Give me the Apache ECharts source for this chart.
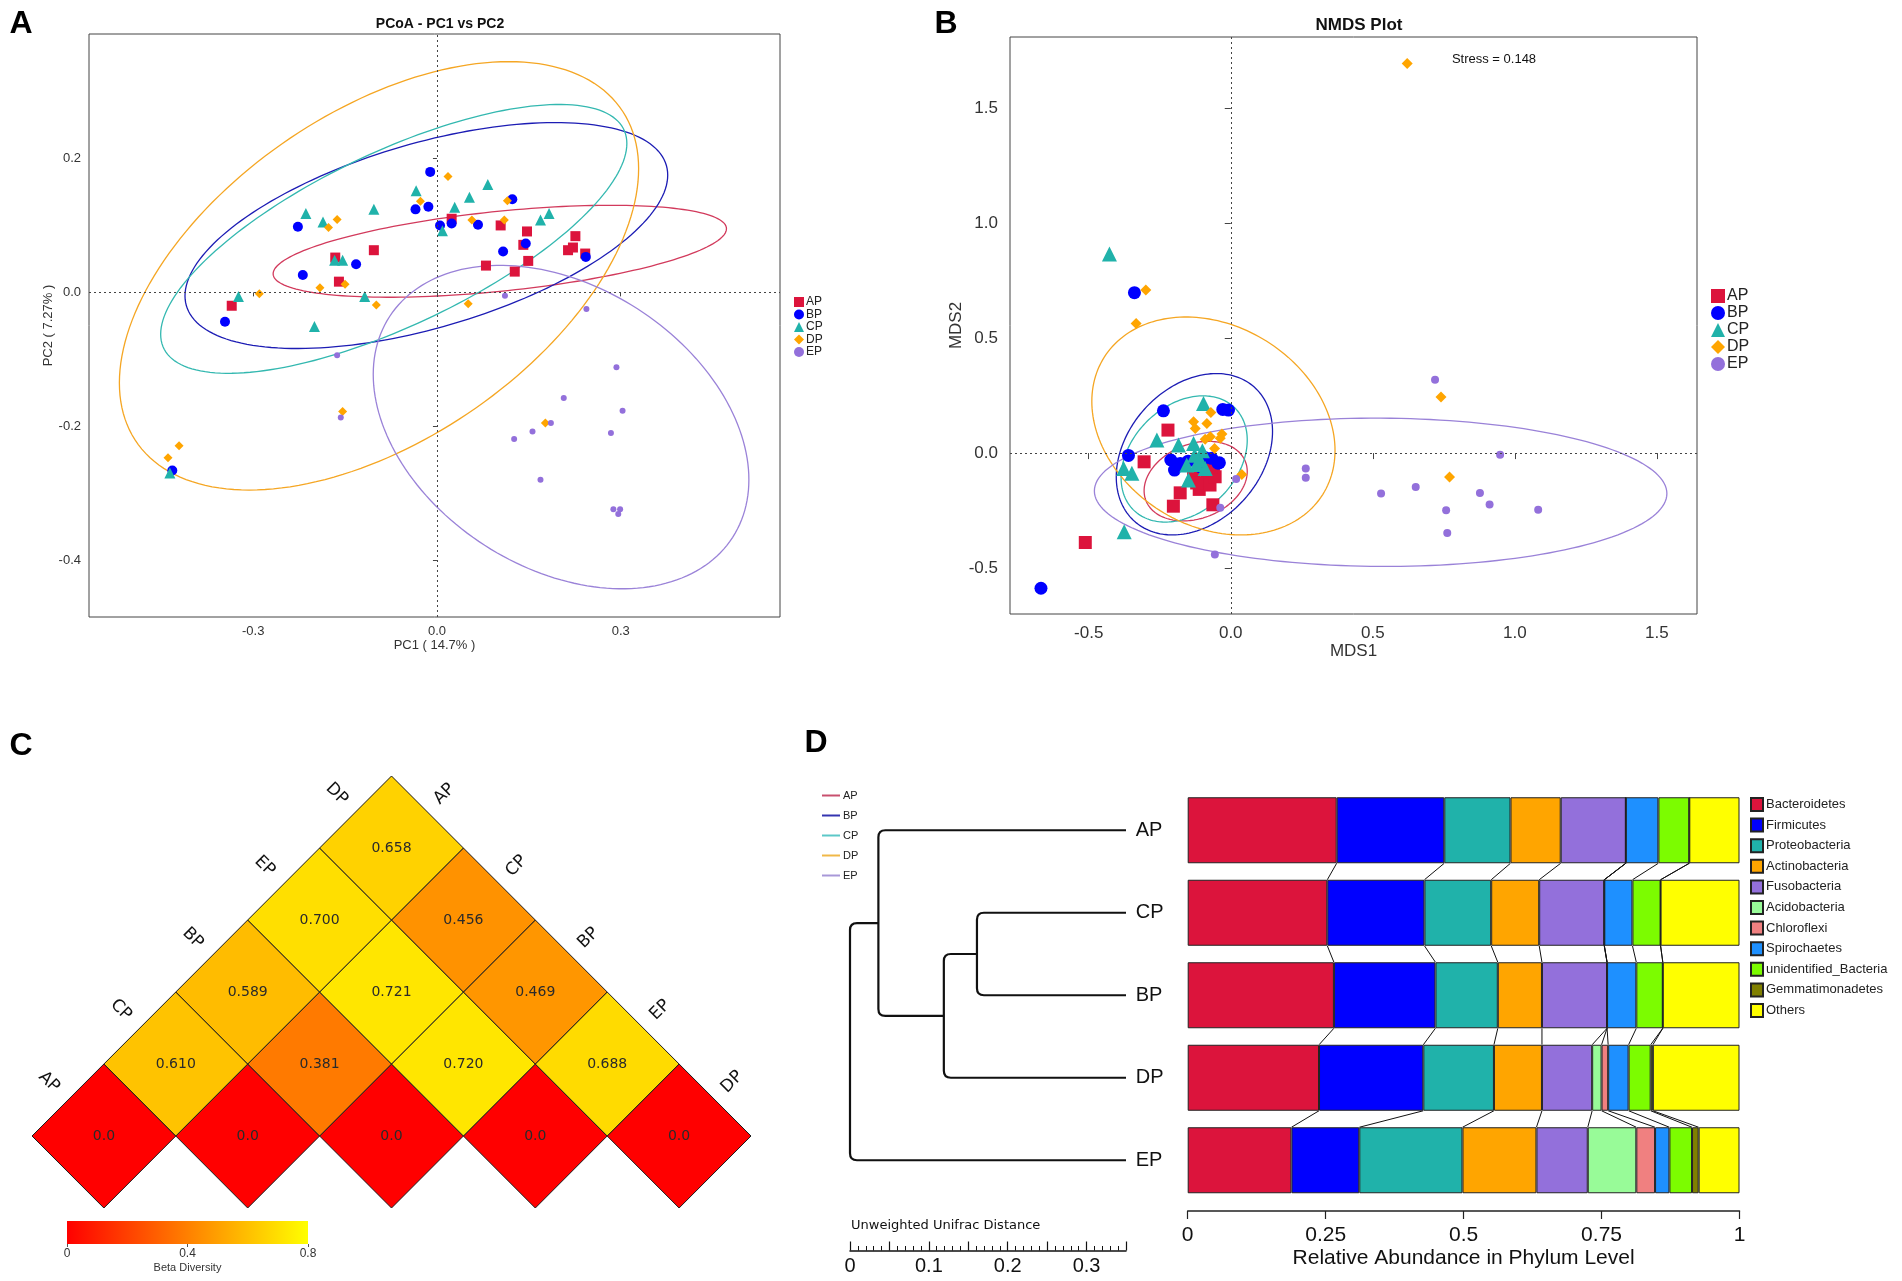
<!DOCTYPE html>
<html><head><meta charset="utf-8">
<script src="https://cdn.jsdelivr.net/npm/echarts@6/dist/echarts.min.js"></script>
<style>html,body{margin:0;padding:0;background:#fff}#c{width:1902px;height:1281px}</style>
</head><body><div id="c"></div>
<script>
// ---------- shared ----------
const groups = ['AP','BP','CP','DP','EP'];
const groupColors = ['#DC143C','#0000FF','#20B2AA','#FFA500','#9370DB'];
const ellipseColors = ['#D23A5C','#1C1CB4','#33B8B0','#F5A623','#9A82D8'];
const groupSymbols = ['rect','circle','triangle','diamond','circle'];

// ---------- Panel A : PCoA ----------
const pcoaAP = [[0.024,0.110],[0.104,0.100],[0.147,0.091],[0.141,0.071],[0.226,0.084],[0.222,0.067],[0.214,0.063],[0.242,0.058],[-0.103,0.063],[-0.166,0.052],[0.149,0.047],[0.080,0.040],[0.127,0.031],[-0.160,0.016],[-0.335,-0.020]];
const pcoaBP = [[-0.011,0.180],[0.123,0.139],[-0.035,0.124],[-0.014,0.128],[-0.227,0.098],[0.005,0.100],[0.024,0.103],[0.067,0.101],[0.145,0.073],[0.108,0.061],[-0.132,0.042],[-0.219,0.026],[0.243,0.053],[-0.346,-0.044],[-0.432,-0.266]];
const pcoaCP = [[-0.034,0.152],[0.083,0.161],[0.053,0.142],[0.029,0.127],[-0.214,0.118],[-0.186,0.105],[-0.103,0.124],[0.183,0.118],[0.169,0.108],[0.009,0.092],[-0.167,0.048],[-0.154,0.048],[-0.324,-0.006],[-0.118,-0.006],[-0.200,-0.051],[-0.436,-0.270]];
const pcoaDP = [[0.018,0.173],[-0.027,0.136],[0.115,0.137],[-0.163,0.109],[-0.177,0.097],[0.057,0.108],[0.110,0.108],[-0.191,0.007],[-0.150,0.012],[-0.290,-0.002],[-0.099,-0.019],[0.051,-0.017],[-0.154,-0.178],[0.177,-0.195],[-0.421,-0.229],[-0.439,-0.247]];
const pcoaEP = [[0.111,-0.005],[0.244,-0.025],[-0.163,-0.094],[0.293,-0.112],[0.207,-0.158],[0.303,-0.177],[-0.157,-0.187],[0.186,-0.195],[0.156,-0.208],[0.126,-0.219],[0.284,-0.210],[0.169,-0.280],[0.288,-0.324],[0.299,-0.324],[0.296,-0.331]];
// ellipse: [centerX, centerY, halfWidth, halfHeight, phaseDeg]
const pcoaEllipses = [[0.1026,0.0614,0.370,0.0687,60.7],[-0.0173,0.0849,0.394,0.1688,57.7],[-0.0705,0.0799,0.3805,0.2008,44.8],[-0.0946,0.0247,0.4238,0.320,60],[0.2026,-0.2012,0.3066,0.2416,109]];
const pcoaTicksX = [-0.3,0,0.3];
const pcoaTicksY = [-0.4,-0.2,0,0.2];

// ---------- Panel B : NMDS ----------
const nmdsAP = [[-0.221,0.100],[-0.305,-0.038],[-0.178,-0.173],[-0.202,-0.231],[-0.063,-0.225],[-0.111,-0.158],[-0.084,-0.117],[-0.061,-0.088],[-0.131,-0.103],[-0.073,-0.139],[-0.055,-0.103],[-0.096,-0.074],[-0.512,-0.389],[-0.120,-0.130],[-0.070,-0.060]];
const nmdsBP = [[-0.237,0.184],[-0.028,0.190],[-0.008,0.187],[-0.360,-0.010],[-0.211,-0.030],[-0.198,-0.074],[-0.040,-0.042],[-0.067,-0.023],[-0.178,-0.045],[-0.108,-0.059],[-0.339,0.698],[-0.668,-0.588],[-0.045,-0.044],[-0.150,-0.035],[-0.090,-0.020]];
const nmdsCP = [[-0.096,0.216],[-0.260,0.057],[-0.184,0.035],[-0.131,0.042],[-0.377,-0.067],[-0.348,-0.088],[-0.155,-0.052],[-0.127,-0.009],[-0.108,-0.030],[-0.090,-0.067],[-0.149,-0.117],[-0.375,-0.342],[-0.427,0.866],[-0.120,-0.050],[-0.100,0.010]];
const nmdsDP = [[-0.070,0.177],[-0.131,0.136],[-0.084,0.129],[-0.125,0.107],[-0.072,0.071],[-0.031,0.083],[-0.037,0.064],[-0.057,0.020],[0.039,-0.093],[0.621,1.695],[-0.299,0.709],[-0.333,0.564],[0.740,0.244],[0.770,-0.104],[-0.090,0.060]];
const nmdsEP = [[0.019,-0.113],[-0.037,-0.238],[-0.056,-0.441],[0.264,-0.067],[0.264,-0.107],[0.719,0.319],[0.948,-0.007],[0.529,-0.176],[0.651,-0.148],[0.877,-0.174],[0.911,-0.224],[0.758,-0.249],[1.082,-0.247],[0.762,-0.348]];
const nmdsEllipses = [[-0.1235,-0.122,0.1815,0.173,76],[-0.128,-0.005,0.275,0.351,73.7],[-0.164,-0.0255,0.222,0.2745,72.6],[-0.061,0.118,0.428,0.474,103],[0.5275,-0.1705,1.0075,0.3225,91]];
const nmdsTicks = [-0.5,0,0.5,1,1.5];

// ---------- Panel C : beta diversity triangle ----------
const betaGroups = ['AP','CP','BP','EP','DP'];
// [i, j, value] with i <= j (indices into betaGroups)
const betaCells = [[0,0,0],[1,1,0],[2,2,0],[3,3,0],[4,4,0],
  [0,1,0.610],[1,2,0.381],[2,3,0.720],[3,4,0.688],
  [0,2,0.589],[1,3,0.721],[2,4,0.469],
  [0,3,0.700],[1,4,0.456],
  [0,4,0.658]];
const betaScaleTicks = [0,0.4,0.8];

// ---------- Panel D : dendrogram + phylum bars ----------
const barGroups = ['AP','CP','BP','DP','EP'];
const dendroColors = ['#C8506E','#3434B0','#5CC8C8','#F0B848','#A898D8'];
const mergeLeft = ['CP','n0','AP','n2'];
const mergeRight = ['BP','DP','n1','EP'];
const mergeHeight = [0.189,0.231,0.314,0.350];
const phyla = ['Bacteroidetes','Firmicutes','Proteobacteria','Actinobacteria','Fusobacteria','Acidobacteria','Chloroflexi','Spirochaetes','unidentified_Bacteria','Gemmatimonadetes','Others'];
const phylaColors = ['#DC143C','#0000FF','#20B2AA','#FFA500','#9370DB','#98FB98','#F08080','#1E90FF','#7CFC00','#808000','#FFFF00'];
const Bacteroidetes = [0.270,0.253,0.265,0.238,0.188];
const Firmicutes = [0.195,0.176,0.184,0.189,0.123];
const Proteobacteria = [0.120,0.121,0.113,0.128,0.187];
const Actinobacteria = [0.091,0.087,0.080,0.087,0.134];
const Fusobacteria = [0.118,0.118,0.118,0.091,0.093];
const Acidobacteria = [0,0,0,0.017,0.088];
const Chloroflexi = [0,0,0,0.012,0.034];
const Spirochaetes = [0.059,0.051,0.053,0.037,0.026];
const unidentifiedBacteria = [0.056,0.051,0.048,0.040,0.041];
const Gemmatimonadetes = [0,0,0,0.004,0.012];
const Others = [0.091,0.143,0.139,0.157,0.074];
const phylaValues = [Bacteroidetes,Firmicutes,Proteobacteria,Actinobacteria,Fusobacteria,Acidobacteria,Chloroflexi,Spirochaetes,unidentifiedBacteria,Gemmatimonadetes,Others];
const abundanceTicks = [0,0.25,0.5,0.75,1];

// ================= build =================
const FONT = 'Liberation Sans';
const chart = echarts.init(document.getElementById('c'), null, {renderer:'canvas'});

function ellipseRenderer(colors){
  return function(params, api){
    const cx=api.value(0), cy=api.value(1), ax=api.value(2), ay=api.value(3), ph=api.value(4)*Math.PI/180;
    const pts=[];
    for(let d=0; d<=360; d+=2){
      const t=d*Math.PI/180;
      pts.push(api.coord([cx+ax*Math.cos(t), cy+ay*Math.cos(t-ph)]));
    }
    return {type:'polyline', silent:true, shape:{points:pts}, style:{stroke:colors[params.dataIndex], fill:null, lineWidth:1.3}};
  };
}

const zeroLines = {silent:true, symbol:'none', label:{show:false}, lineStyle:{type:[2,3], color:'#444', width:1}, data:[{xAxis:0},{yAxis:0}]};

const series = [];
const pcoaSets = [pcoaAP,pcoaBP,pcoaCP,pcoaDP,pcoaEP];
const nmdsSets = [nmdsAP,nmdsBP,nmdsCP,nmdsDP,nmdsEP];
const sizeA = [10,10,11,9,6];
const sizeB = [13,13,15,11,8];
series.push({type:'custom', name:'pcoa-ellipse', xAxisIndex:0, yAxisIndex:0, data:pcoaEllipses, encode:{x:0,y:1}, renderItem:ellipseRenderer(ellipseColors), z:1});
groups.forEach((g,i)=>{
  series.push({type:'scatter', name:g, xAxisIndex:0, yAxisIndex:0, data:pcoaSets[i], symbol:groupSymbols[i], symbolSize:sizeA[i], itemStyle:{color:groupColors[i], opacity:1}, z:3,
    markLine: i===0 ? zeroLines : undefined});
});
series.push({type:'custom', name:'nmds-ellipse', xAxisIndex:1, yAxisIndex:1, data:nmdsEllipses, encode:{x:0,y:1}, renderItem:ellipseRenderer(ellipseColors), z:1});
groups.forEach((g,i)=>{
  series.push({type:'scatter', name:g, xAxisIndex:1, yAxisIndex:1, data:nmdsSets[i], symbol:groupSymbols[i], symbolSize:sizeB[i], itemStyle:{color:groupColors[i], opacity:1}, z:3,
    markLine: i===0 ? zeroLines : undefined});
});

// Panel C cells
const cellSeriesIndex = series.length;
series.push({type:'custom', name:'beta', xAxisIndex:2, yAxisIndex:2, data:betaCells, encode:{x:0,y:1}, renderItem:function(params, api){
  const i=api.value(0), j=api.value(1), v=api.value(2);
  const cx=(i+j)/2, cy=j-i;
  const pts=[api.coord([cx-0.5,cy]), api.coord([cx,cy+1]), api.coord([cx+0.5,cy]), api.coord([cx,cy-1])];
  const c=api.coord([cx,cy]);
  return {type:'group', children:[
    {type:'polygon', shape:{points:pts}, style:{fill:api.visual('color'), stroke:'#1a1a1a', lineWidth:1}},
    {type:'text', x:c[0], y:c[1], style:{text: v===0 ? '0.0' : v.toFixed(3), fill:'#2a2a2a', fontSize:14, fontFamily:'DejaVu Sans', align:'center', verticalAlign:'middle'}}
  ]};
}});
// Panel C group labels
series.push({type:'custom', name:'beta-labels', xAxisIndex:2, yAxisIndex:2, data:betaGroups.map((g,k)=>[k,k]), encode:{x:0,y:1}, silent:true, renderItem:function(params, api){
  const k=params.dataIndex;
  const l=api.coord([k/2-0.25, k+0.5]);
  const r=api.coord([(k+4)/2+0.25, 4-k+0.5]);
  const st={text:betaGroups[k], fill:'#111', fontSize:17, fontFamily:'DejaVu Sans', align:'center', verticalAlign:'middle'};
  return {type:'group', children:[
    {type:'text', x:l[0]-19, y:l[1]-18, rotation:-Math.PI/4, style:st},
    {type:'text', x:r[0]+17, y:r[1]-18, rotation:Math.PI/4, style:Object.assign({}, st)}
  ]};
}});
// colour bar
series.push({type:'custom', name:'beta-scale', xAxisIndex:3, yAxisIndex:3, data:[[betaScaleTicks[0], betaScaleTicks[2]]], encode:{x:[0,1]}, silent:true, renderItem:function(params, api){
  const a=api.coord([api.value(0),1]), b=api.coord([api.value(1),0]);
  return {type:'rect', shape:{x:a[0], y:a[1], width:b[0]-a[0], height:b[1]-a[1]}, style:{fill:new echarts.graphic.LinearGradient(0,0,1,0,[{offset:0,color:'#FF0000'},{offset:0.5,color:'#FF8000'},{offset:1,color:'#FFFF00'}])}};
}});

// dendrogram (rounded elbows)
const nodePos = {};
barGroups.forEach((g,i)=>{ nodePos[g]={h:0, y:i}; });
mergeHeight.forEach((h,m)=>{ nodePos['n'+m]={h:h, y:(nodePos[mergeLeft[m]].y+nodePos[mergeRight[m]].y)/2}; });
series.push({type:'custom', name:'dendro', xAxisIndex:4, yAxisIndex:4, data:mergeHeight.map((h,m)=>[h,m]), encode:{x:0,y:1}, silent:true, renderItem:function(params, api){
  const m=params.dataIndex, h=api.value(0);
  const a=nodePos[mergeLeft[m]], b=nodePos[mergeRight[m]];
  const A=api.coord([a.h,a.y]), P=api.coord([h,a.y]), Q=api.coord([h,b.y]), B=api.coord([b.h,b.y]);
  const r=7;
  const d='M'+A[0]+','+A[1]+' L'+(P[0]+r)+','+P[1]+' Q'+P[0]+','+P[1]+' '+P[0]+','+(P[1]+r)+
          ' L'+Q[0]+','+(Q[1]-r)+' Q'+Q[0]+','+Q[1]+' '+(Q[0]+r)+','+Q[1]+' L'+B[0]+','+B[1];
  return {type:'path', shape:{pathData:d}, style:{stroke:'#111', lineWidth:2.2, fill:null}};
}});

// bars
phyla.forEach((p,i)=>{
  series.push({type:'bar', name:p, xAxisIndex:6, yAxisIndex:5, stack:'abund', data:phylaValues[i], barWidth:'80%',
    itemStyle:{color:phylaColors[i], borderColor:'#222', borderWidth:1}});
});
// connectors between bars
const cum = barGroups.map((g,gi)=>{ let s=0; const arr=[0]; phylaValues.forEach(v=>{ s+=v[gi]; arr.push(s); }); return arr; });
series.push({type:'custom', name:'connect', xAxisIndex:6, yAxisIndex:5, data:[[0,0],[0,1],[0,2],[0,3]], encode:{x:0,y:1}, silent:true, renderItem:function(params, api){
  const k=params.dataIndex;
  const half=api.size([0,1])[1]*0.4;
  const ch=[];
  for(let b=1;b<phyla.length;b++){
    const p1=api.coord([cum[k][b],k]), p2=api.coord([cum[k+1][b],k+1]);
    ch.push({type:'line', shape:{x1:p1[0], y1:p1[1]+half, x2:p2[0], y2:p2[1]-half}, style:{stroke:'#111', lineWidth:1}});
  }
  return {type:'group', children:ch};
}});

const axisTxt = {color:'#333', fontFamily:FONT};
const option = {
  animation:false,
  backgroundColor:'#fff',
  textStyle:{fontFamily:FONT},
  title:[
    {text:'PCoA - PC1 vs PC2', left:435, top:12, textAlign:'center', textStyle:{fontSize:14, fontWeight:'bold', color:'#111'}},
    {text:'NMDS Plot', left:1354, top:12, textAlign:'center', textStyle:{fontSize:17, fontWeight:'bold', color:'#111'}}
  ],
  graphic:[
    {type:'text', x:21, y:24, style:{text:'A', fontSize:32, fontWeight:'bold', fontFamily:FONT, fill:'#000', align:'center', verticalAlign:'middle'}},
    {type:'text', x:946, y:24, style:{text:'B', fontSize:32, fontWeight:'bold', fontFamily:FONT, fill:'#000', align:'center', verticalAlign:'middle'}},
    {type:'text', x:21, y:746, style:{text:'C', fontSize:32, fontWeight:'bold', fontFamily:FONT, fill:'#000', align:'center', verticalAlign:'middle'}},
    {type:'text', x:816, y:743, style:{text:'D', fontSize:32, fontWeight:'bold', fontFamily:FONT, fill:'#000', align:'center', verticalAlign:'middle'}},
    {type:'text', x:1494, y:59, style:{text:'Stress = 0.148', fontSize:13, fontFamily:FONT, fill:'#111', align:'center', verticalAlign:'middle'}},
    {type:'text', x:851, y:1226, style:{text:'Unweighted Unifrac Distance', fontSize:13, fontFamily:'DejaVu Sans', fill:'#111', align:'left', verticalAlign:'middle'}}
  ],
  legend:[
    {data:groups, orient:'vertical', left:789, top:291, itemWidth:10, itemHeight:10, itemGap:0.5, selectedMode:false, textStyle:{fontSize:12, color:'#222', padding:[0,0,0,-3]}},
    {data:groups, orient:'vertical', left:1706, top:283, itemWidth:14, itemHeight:14, itemGap:1, selectedMode:false, textStyle:{fontSize:16, color:'#222', padding:[0,0,0,-3]}},
    {data:groups.map((g,i)=>({name:g, icon:'rect', itemStyle:{color:dendroColors[i], borderWidth:0}})), orient:'vertical', left:817, top:785, itemWidth:18, itemHeight:2, itemGap:9, selectedMode:false, textStyle:{fontSize:11, color:'#222', padding:[0,0,0,-2]}},
    {data:phyla, orient:'vertical', left:1745, top:792, itemWidth:12, itemHeight:13, itemGap:5.6, icon:'rect', selectedMode:false, textStyle:{fontSize:13, color:'#222', padding:[0,0,0,-2]}}
  ],
  visualMap:[{show:false, seriesIndex:cellSeriesIndex, dimension:2, min:0, max:0.8, inRange:{color:['#FF0000','#FF8000','#FFFF00']}}],
  grid:[
    {left:89, top:34, width:691, height:583, show:true, borderColor:'#444', borderWidth:1},
    {left:1010, top:37, width:687, height:577, show:true, borderColor:'#444', borderWidth:1},
    {left:32, top:776, width:719, height:432},
    {left:67, top:1221, width:241, height:23},
    {left:850, top:789, width:276, height:412.5},
    {left:1187.7, top:789, width:551.8, height:412.5}
  ],
  xAxis:[
    {gridIndex:0, type:'value', min:-0.568, max:0.56, axisLine:{show:false}, splitLine:{show:false},
      axisTick:{show:true, length:4, customValues:pcoaTicksX, lineStyle:{color:'#444'}},
      axisLabel:Object.assign({customValues:pcoaTicksX, formatter:v=>v.toFixed(1), fontSize:13, margin:8}, axisTxt),
      name:'PC1 ( 14.7% )', nameLocation:'middle', nameGap:21, nameTextStyle:Object.assign({fontSize:13}, axisTxt)},
    {gridIndex:1, type:'value', min:-0.777, max:1.641, axisLine:{show:false}, splitLine:{show:false},
      axisTick:{show:true, length:6, customValues:nmdsTicks, lineStyle:{color:'#444'}},
      axisLabel:Object.assign({customValues:nmdsTicks, formatter:v=>v.toFixed(1), fontSize:17, margin:11}, axisTxt),
      name:'MDS1', nameLocation:'middle', nameGap:25, nameTextStyle:Object.assign({fontSize:17}, axisTxt)},
    {gridIndex:2, type:'value', min:-0.5, max:4.5, show:false},
    {gridIndex:3, type:'value', min:0, max:0.8, interval:0.4, axisLine:{show:false}, splitLine:{show:false},
      axisTick:{show:true, length:3, lineStyle:{color:'#555'}},
      axisLabel:Object.assign({fontSize:12, margin:4}, axisTxt),
      name:'Beta Diversity', nameLocation:'middle', nameGap:18, nameTextStyle:Object.assign({fontSize:11}, axisTxt)},
    {gridIndex:4, type:'value', min:0, max:0.35, inverse:true, show:false},
    {gridIndex:4, type:'value', min:0, max:0.35, interval:0.05, position:'bottom', offset:49,
      axisLine:{show:true, lineStyle:{color:'#111', width:1.5}}, splitLine:{show:false},
      axisTick:{show:true, inside:true, length:9, lineStyle:{color:'#111', width:1.2}},
      minorTick:{show:true, splitNumber:5, length:4.5, lineStyle:{color:'#111', width:1}},
      axisLabel:{fontSize:20, color:'#111', margin:6, fontFamily:FONT, formatter:v=>{const r=Math.round(v*100)/100; return [0,0.1,0.2,0.3].indexOf(r)>=0 ? String(r) : '';}}},
    {gridIndex:5, type:'value', min:0, max:1, interval:0.25, offset:9.5,
      axisLine:{show:true, lineStyle:{color:'#222', width:1.5}}, splitLine:{show:false},
      axisTick:{show:true, length:8, lineStyle:{color:'#222', width:1.2}},
      axisLabel:{fontSize:21, color:'#111', margin:14, fontFamily:FONT, formatter:v=>String(v)},
      name:'Relative Abundance in Phylum Level', nameLocation:'middle', nameGap:37, nameTextStyle:{fontSize:21, color:'#111', fontFamily:FONT}}
  ],
  yAxis:[
    {gridIndex:0, type:'value', min:-0.485, max:0.386, axisLine:{show:false}, splitLine:{show:false},
      axisTick:{show:true, length:4, customValues:pcoaTicksY, lineStyle:{color:'#444'}},
      axisLabel:Object.assign({customValues:pcoaTicksY, formatter:v=>v.toFixed(1), fontSize:13, margin:8}, axisTxt),
      name:'PC2 ( 7.27% )', nameLocation:'middle', nameGap:34, nameTextStyle:Object.assign({fontSize:13}, axisTxt)},
    {gridIndex:1, type:'value', min:-0.70, max:1.81, axisLine:{show:false}, splitLine:{show:false},
      axisTick:{show:true, length:6, customValues:nmdsTicks, lineStyle:{color:'#444'}},
      axisLabel:Object.assign({customValues:nmdsTicks, formatter:v=>v.toFixed(1), fontSize:17, margin:12}, axisTxt),
      name:'MDS2', nameLocation:'middle', nameGap:45, nameTextStyle:Object.assign({fontSize:17}, axisTxt)},
    {gridIndex:2, type:'value', min:-1, max:5, show:false},
    {gridIndex:3, type:'value', min:0, max:1, show:false},
    {gridIndex:4, type:'value', min:-0.5, max:4.5, inverse:true, show:false},
    {gridIndex:5, type:'category', data:barGroups, inverse:true, axisLine:{show:false}, axisTick:{show:false},
      axisLabel:{align:'left', margin:52, fontSize:20, color:'#111', fontFamily:FONT}}
  ],
  series:series
};
chart.setOption(option);
</script>
</body></html>
